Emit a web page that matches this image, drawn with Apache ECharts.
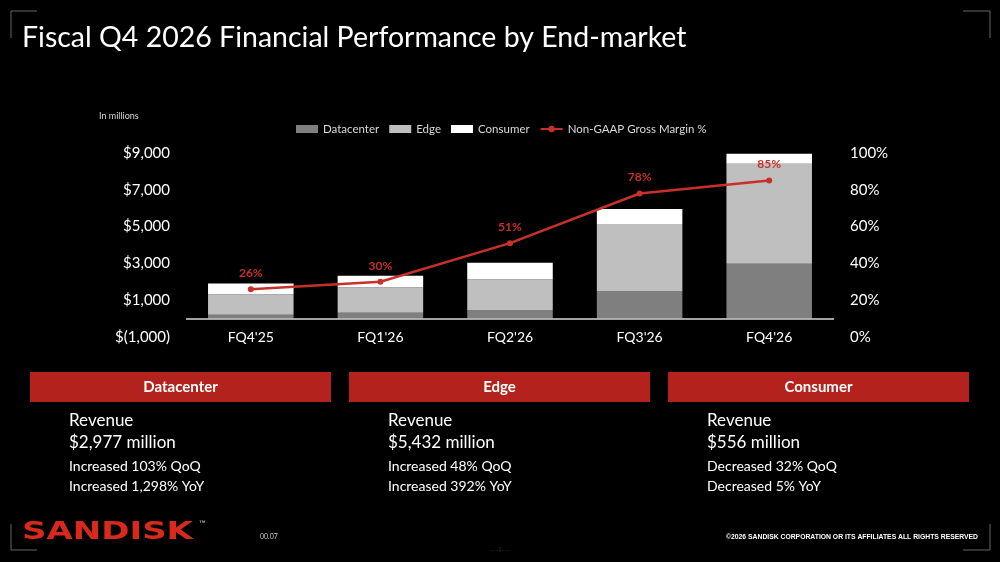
<!DOCTYPE html>
<html><head><meta charset="utf-8">
<script src="https://cdn.jsdelivr.net/npm/echarts@6/dist/echarts.min.js"></script>
<style>html,body{margin:0;padding:0;background:#000;}#c{width:1000px;height:562px;}</style>
</head><body><div id="c"></div>
<script>
const categories = ["FQ4'25", "FQ1'26", "FQ2'26", "FQ3'26", "FQ4'26"];
const datacenter = [213, 320, 467, 1467, 2977];
const edge = [1104, 1380, 1670, 3670, 5432];
const consumer = [585, 630, 900, 818, 556];
const grossMargin = [26, 30, 51, 78, 85];
const leftTicks = [-1000, 1000, 3000, 5000, 7000, 9000];
const rightTicks = [0, 20, 40, 60, 80, 100];
const panelTitles = ["Datacenter", "Edge", "Consumer"];
const panelRevenue = ["$2,977 million", "$5,432 million", "$556 million"];
const panelQoQ = ["Increased 103% QoQ", "Increased 48% QoQ", "Decreased 32% QoQ"];
const panelYoY = ["Increased 1,298% YoY", "Increased 392% YoY", "Decreased 5% YoY"];

const FONT = 'Lato, "Open Sans", sans-serif';
const chart = echarts.init(document.getElementById('c'));

function money(v){
  const s = Math.abs(v).toLocaleString('en-US');
  return v < 0 ? '$(' + s + ')' : '$' + s;
}

const graphics = [];
const panelX = [30, 349, 668];
panelTitles.forEach((t, i) => {
  const x = panelX[i];
  graphics.push({type:'rect', left:x, top:372, shape:{width:301, height:30}, style:{fill:'#b3221c'}, silent:true});
  graphics.push({type:'text', x:x+150.5, y:387, style:{text:t, fill:'#fff', font:'bold 15px ' + FONT, textAlign:'center', textVerticalAlign:'middle'}});
  graphics.push({type:'text', x:x+39, y:421, style:{text:'Revenue', fill:'#fff', font:'17px ' + FONT, textVerticalAlign:'middle'}});
  graphics.push({type:'text', x:x+39, y:443, style:{text:panelRevenue[i], fill:'#fff', font:'17px ' + FONT, textVerticalAlign:'middle'}});
  graphics.push({type:'text', x:x+39, y:466, style:{text:panelQoQ[i], fill:'#fff', font:'14px ' + FONT, textVerticalAlign:'middle'}});
  graphics.push({type:'text', x:x+39, y:486, style:{text:panelYoY[i], fill:'#fff', font:'14px ' + FONT, textVerticalAlign:'middle'}});
});
// title & notes
graphics.push({type:'text', x:22, y:38, style:{text:'Fiscal Q4 2026 Financial Performance by End-market', fill:'#fff', font:'28.5px ' + FONT, textVerticalAlign:'middle'}});
graphics.push({type:'text', x:99, y:116, style:{text:'In millions', fill:'#d9d9d9', font:'9px ' + FONT, textVerticalAlign:'middle'}});
// logo & footer
graphics.push({type:'text', x:22, y:532, scaleX:1.36, style:{text:'SANDISK', fill:'#d9291c', font:'bold 25px "DejaVu Sans", sans-serif', textVerticalAlign:'middle'}});
graphics.push({type:'text', x:199, y:524, style:{text:'™', fill:'#bbb', font:'9px ' + FONT, textVerticalAlign:'middle'}});
graphics.push({type:'text', x:260, y:537, style:{text:'00.07', fill:'#ccc', font:'7px ' + FONT, textVerticalAlign:'middle'}});
graphics.push({type:'text', x:500, y:549, style:{text:'. . . | . . .', fill:'#555', font:'6px ' + FONT, textAlign:'center', textVerticalAlign:'middle'}});
graphics.push({type:'text', x:978, y:537, style:{text:'©2026 SANDISK CORPORATION OR ITS AFFILIATES ALL RIGHTS RESERVED', fill:'#fff', font:'bold 6.8px "Liberation Sans Narrow", "Liberation Sans", sans-serif', textAlign:'right', textVerticalAlign:'middle'}});
// corner marks
const cm = {stroke:'#666', lineWidth:1};
graphics.push({type:'polyline', shape:{points:[[11,38],[11,11],[37,11]]}, style:Object.assign({fill:null}, cm), silent:true});
graphics.push({type:'polyline', shape:{points:[[963,11],[990,11],[990,38]]}, style:Object.assign({fill:null}, cm), silent:true});
graphics.push({type:'polyline', shape:{points:[[11,524],[11,550],[37,550]]}, style:Object.assign({fill:null}, cm), silent:true});
graphics.push({type:'polyline', shape:{points:[[963,550],[990,550],[990,524]]}, style:Object.assign({fill:null}, cm), silent:true});

chart.setOption({
  backgroundColor:'#000',
  animation:false,
  textStyle:{fontFamily:FONT},
  grid:{left:186, right:166, top:153, bottom:225, containLabel:false},
  legend:{
    left:291, top:118, itemWidth:22, itemHeight:8, itemGap:10,
    textStyle:{color:'#d9d9d9', fontSize:11.5, fontFamily:FONT},
    data:[
      {name:'Datacenter', icon:'rect'},
      {name:'Edge', icon:'rect'},
      {name:'Consumer', icon:'rect'},
      {name:'Non-GAAP Gross Margin %'}
    ]
  },
  xAxis:{
    type:'category', data:categories,
    axisLine:{show:false}, axisTick:{show:false},
    axisLabel:{color:'#fff', fontSize:14, margin:-7, fontFamily:FONT}
  },
  yAxis:[
    {type:'value', min:-1000, max:9000, interval:2000,
     axisLine:{show:false}, axisTick:{show:false}, splitLine:{show:false},
     axisLabel:{color:'#fff', fontSize:15, margin:16, formatter:money, fontFamily:FONT}},
    {type:'value', min:0, max:100, interval:20,
     axisLine:{show:false}, axisTick:{show:false}, splitLine:{show:false},
     axisLabel:{color:'#fff', fontSize:15, margin:16, formatter:'{value}%', fontFamily:FONT}}
  ],
  series:[
    {name:'Datacenter', type:'bar', stack:'rev', data:datacenter, barWidth:'66%',
     itemStyle:{color:'#7f7f7f'},
     markLine:{silent:true, symbol:'none', label:{show:false},
       lineStyle:{color:'#d9d9d9', width:1.5, type:'solid'}, data:[{yAxis:0}]}},
    {name:'Edge', type:'bar', stack:'rev', data:edge, itemStyle:{color:'#bfbfbf'}},
    {name:'Consumer', type:'bar', stack:'rev', data:consumer, itemStyle:{color:'#ffffff'}},
    {name:'Non-GAAP Gross Margin %', type:'line', yAxisIndex:1, data:grossMargin,
     symbol:'circle', symbolSize:6, z:5,
     lineStyle:{color:'#c8302a', width:2.5}, itemStyle:{color:'#c8302a'},
     label:{show:true, position:'top', distance:7, color:'#c8302a', fontSize:12, fontWeight:'bold', formatter:'{c}%', fontFamily:FONT}}
  ],
  graphic:graphics
});
</script></body></html>
